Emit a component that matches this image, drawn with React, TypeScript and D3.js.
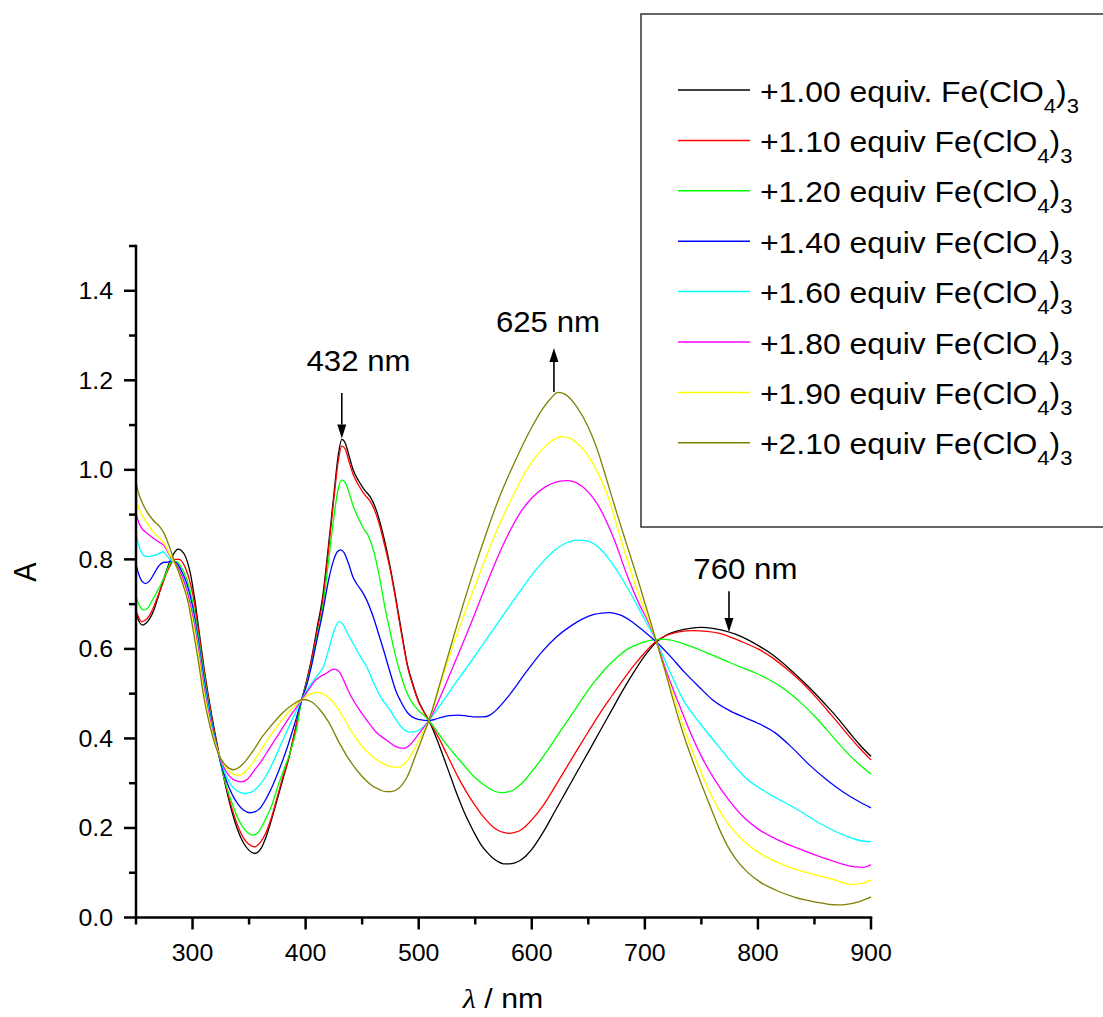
import React from 'react';
import * as d3 from 'd3';

type Pt = [number, number];

// Absorbance spectra, [wavelength nm, A]
const eq100: Pt[] = [[250,0.680],[253,0.660],[256,0.653],[259,0.658],[262,0.667],[266,0.688],[270,0.72],[275,0.76],[280,0.795],[284,0.815],[287,0.823],[290,0.82],[294,0.805],[298,0.77],[302,0.71],[306,0.635],[310,0.56],[315,0.48],[320,0.41],[325,0.345],[330,0.285],[335,0.235],[340,0.195],[345,0.167],[350,0.15],[355,0.143],[360,0.152],[365,0.18],[370,0.22],[375,0.265],[380,0.31],[385,0.355],[390,0.41],[396.5,0.486],[401,0.53],[405,0.575],[410,0.645],[415,0.715],[420,0.825],[425,0.945],[429,1.035],[432,1.068],[435,1.06],[438,1.035],[442,1.0],[447,0.975],[452,0.955],[457,0.94],[461,0.92],[465,0.89],[470,0.84],[475,0.78],[480,0.71],[485,0.635],[490,0.565],[495,0.52],[500,0.483],[505,0.458],[509,0.44],[515,0.405],[520,0.372],[525,0.337],[530,0.302],[535,0.268],[540,0.237],[545,0.21],[550,0.185],[555,0.163],[560,0.147],[565,0.134],[570,0.125],[575,0.12],[580,0.12],[585,0.122],[590,0.128],[595,0.138],[600,0.152],[610,0.19],[620,0.235],[630,0.28],[640,0.325],[651,0.374],[660,0.415],[670,0.46],[680,0.505],[690,0.547],[700,0.585],[710,0.615],[720,0.632],[730,0.641],[740,0.646],[750,0.648],[760,0.646],[770,0.641],[780,0.633],[790,0.622],[800,0.608],[813,0.587],[825,0.562],[840,0.527],[850,0.502],[860,0.475],[870,0.447],[880,0.416],[890,0.386],[900,0.36]];
const eq110: Pt[] = [[250,0.687],[253,0.667],[255,0.661],[258,0.664],[262,0.675],[265,0.69],[268,0.709],[272,0.735],[277,0.769],[281,0.79],[285,0.80],[288,0.80],[292,0.79],[296,0.765],[300,0.725],[305,0.645],[310,0.555],[315,0.475],[320,0.405],[325,0.345],[330,0.29],[335,0.242],[340,0.205],[345,0.178],[350,0.163],[354.5,0.158],[360,0.168],[365,0.19],[370,0.225],[375,0.27],[380,0.315],[385,0.355],[390,0.41],[396.5,0.486],[401,0.528],[405,0.572],[410,0.638],[415,0.705],[420,0.815],[425,0.935],[429,1.022],[432,1.053],[435,1.047],[438,1.022],[442,0.99],[447,0.965],[452,0.945],[457,0.93],[461,0.91],[465,0.88],[470,0.83],[475,0.775],[480,0.705],[485,0.63],[490,0.562],[495,0.517],[500,0.481],[505,0.457],[509,0.44],[515,0.414],[520,0.39],[525,0.364],[530,0.338],[535,0.313],[540,0.29],[545,0.269],[550,0.25],[555,0.232],[560,0.217],[565,0.204],[570,0.195],[575,0.19],[580,0.188],[585,0.19],[590,0.195],[595,0.205],[600,0.218],[610,0.25],[620,0.29],[630,0.332],[640,0.374],[650,0.415],[660,0.455],[670,0.492],[680,0.528],[690,0.562],[700,0.592],[710,0.617],[720,0.631],[730,0.638],[743,0.641],[755,0.639],[765,0.635],[775,0.627],[785,0.617],[800,0.6],[813,0.58],[825,0.556],[840,0.522],[852,0.49],[865,0.452],[880,0.407],[890,0.378],[900,0.352]];
const eq120: Pt[] = [[250,0.718],[253,0.697],[257,0.687],[260,0.69],[264,0.707],[268,0.725],[271,0.739],[275,0.76],[279,0.785],[282,0.796],[286,0.795],[290,0.782],[295,0.755],[300,0.705],[305,0.63],[310,0.545],[315,0.467],[320,0.4],[325,0.342],[330,0.293],[335,0.255],[340,0.222],[345,0.2],[350,0.187],[353,0.184],[358,0.19],[365,0.222],[370,0.25],[375,0.29],[380,0.325],[387,0.374],[392,0.42],[396.5,0.486],[401,0.523],[405,0.562],[410,0.625],[415,0.69],[420,0.79],[425,0.895],[429,0.96],[432,0.977],[435,0.972],[438,0.952],[442,0.92],[447,0.89],[451,0.87],[455,0.855],[460,0.82],[465,0.765],[470,0.695],[475,0.635],[480,0.58],[485,0.535],[490,0.5],[495,0.477],[500,0.462],[505,0.451],[509,0.44],[515,0.42],[520,0.402],[527,0.379],[533,0.361],[540,0.34],[550,0.312],[560,0.292],[567,0.282],[573,0.279],[580,0.281],[585,0.287],[590,0.297],[595,0.31],[600,0.326],[608,0.352],[616,0.381],[625,0.415],[635,0.452],[645,0.49],[655,0.525],[665,0.555],[675,0.58],[685,0.6],[695,0.612],[705,0.619],[714,0.622],[722,0.62],[730,0.615],[740,0.606],[755,0.591],[770,0.575],[785,0.559],[799,0.545],[810,0.531],[820,0.516],[830,0.497],[840,0.475],[850,0.45],[860,0.422],[870,0.393],[880,0.365],[890,0.341],[900,0.32]];
const eq140: Pt[] = [[250,0.79],[252,0.77],[255,0.752],[258.5,0.746],[262,0.752],[266,0.768],[270,0.785],[274,0.793],[278,0.794],[282,0.796],[286,0.792],[290,0.775],[295,0.745],[300,0.695],[305,0.62],[310,0.535],[315,0.462],[320,0.398],[325,0.345],[330,0.305],[335,0.275],[340,0.254],[345,0.24],[351,0.234],[356,0.237],[360,0.245],[365,0.265],[370,0.29],[375,0.32],[383,0.374],[390,0.43],[396.5,0.486],[401,0.52],[405,0.56],[410,0.62],[415,0.68],[420,0.75],[425,0.8],[428,0.817],[431,0.821],[434,0.815],[438,0.79],[442,0.76],[445,0.746],[450,0.728],[454,0.709],[460,0.67],[465,0.63],[469,0.597],[475,0.545],[480,0.505],[483.5,0.486],[490,0.458],[495,0.447],[501,0.442],[509,0.44],[515,0.443],[520,0.447],[527,0.451],[535,0.452],[543,0.45],[550,0.448],[557,0.448],[563,0.452],[570,0.467],[578,0.49],[585,0.513],[592,0.538],[600,0.565],[610,0.596],[622,0.627],[635,0.652],[645,0.667],[655,0.677],[662,0.68],[668,0.681],[675,0.678],[683,0.67],[690,0.658],[700,0.638],[710,0.616],[722,0.585],[735,0.548],[748,0.515],[760,0.486],[775,0.462],[790,0.445],[800,0.434],[815,0.413],[830,0.38],[845,0.342],[861,0.307],[875,0.281],[890,0.258],[900,0.245]];
const eq160: Pt[] = [[250,0.858],[252,0.835],[255,0.815],[259.5,0.806],[264,0.808],[268,0.81],[274,0.817],[278,0.806],[282,0.796],[286,0.787],[290,0.768],[295,0.735],[300,0.683],[305,0.61],[310,0.525],[315,0.455],[320,0.395],[325,0.35],[330,0.315],[335,0.293],[340,0.282],[346,0.277],[352,0.28],[360,0.298],[368,0.33],[376,0.374],[385,0.425],[396.5,0.486],[403,0.515],[410,0.54],[415.7,0.56],[420,0.595],[425,0.64],[429.6,0.661],[433,0.655],[437,0.635],[442,0.612],[448,0.585],[454,0.56],[460,0.525],[467,0.49],[474.7,0.463],[480,0.442],[486,0.422],[492,0.414],[497,0.415],[502.7,0.423],[509,0.44],[520,0.478],[533,0.525],[548,0.578],[565,0.64],[578,0.687],[590,0.73],[600,0.765],[610,0.795],[620,0.82],[630,0.836],[641,0.843],[650,0.84],[660,0.825],[670,0.795],[685,0.735],[700,0.665],[710,0.618],[722,0.55],[734,0.486],[750,0.43],[765,0.383],[790,0.31],[810,0.276],[833,0.244],[855,0.21],[880,0.18],[890,0.172],[900,0.169]];
const eq180: Pt[] = [[250,0.905],[252,0.885],[255,0.87],[259.5,0.859],[264,0.85],[268,0.842],[272,0.836],[275,0.83],[279,0.812],[283,0.796],[287,0.783],[291,0.76],[295,0.73],[300,0.675],[305,0.6],[310,0.515],[315,0.447],[320,0.392],[325,0.352],[330,0.325],[335,0.31],[339,0.305],[343.5,0.303],[349,0.31],[355,0.33],[361,0.35],[367,0.374],[375,0.405],[385,0.445],[396.5,0.486],[403,0.51],[408,0.528],[412.8,0.538],[418,0.545],[422,0.552],[426,0.555],[430,0.548],[434,0.528],[439,0.5],[446,0.47],[454,0.441],[462,0.415],[471.7,0.396],[479,0.383],[486.5,0.378],[492,0.385],[500,0.41],[509,0.44],[520,0.498],[530,0.558],[540,0.618],[548,0.668],[560,0.745],[570,0.806],[578,0.85],[590,0.905],[600,0.937],[612,0.962],[622,0.973],[632,0.976],[645,0.962],[660,0.915],[672,0.85],[685,0.76],[695,0.7],[703,0.66],[710,0.618],[719,0.55],[728.7,0.486],[740,0.415],[750,0.36],[762,0.307],[775,0.26],[787,0.225],[800,0.198],[818,0.173],[840,0.15],[864,0.128],[886,0.113],[893,0.112],[900,0.118]];
const eq190: Pt[] = [[250,0.94],[252,0.918],[255,0.9],[259.5,0.882],[265,0.862],[271,0.847],[275,0.835],[279,0.815],[283,0.796],[287,0.777],[291,0.752],[295,0.72],[300,0.665],[305,0.59],[310,0.505],[315,0.44],[320,0.39],[325,0.355],[330,0.333],[335,0.322],[339.6,0.318],[345,0.322],[350,0.335],[355,0.352],[360,0.372],[370,0.41],[380,0.445],[390,0.472],[396.5,0.486],[403,0.498],[409.8,0.503],[415,0.5],[421,0.49],[427.5,0.471],[435,0.44],[442,0.41],[450,0.382],[460,0.358],[470,0.342],[477,0.336],[482,0.336],[488,0.345],[495,0.37],[502,0.405],[509,0.44],[520,0.528],[530,0.605],[540,0.675],[550,0.742],[560,0.808],[570,0.87],[580,0.925],[590,0.975],[600,1.017],[610,1.048],[618,1.065],[627,1.074],[640,1.06],[655,1.01],[666,0.95],[680,0.835],[690,0.755],[700,0.685],[710,0.618],[718,0.55],[726.6,0.486],[735,0.42],[744,0.36],[752.6,0.307],[763,0.252],[775,0.205],[787,0.172],[800,0.146],[815,0.126],[833,0.108],[850,0.096],[865,0.086],[883,0.074],[892,0.076],[900,0.084]];
const eq210: Pt[] = [[250,0.973],[252,0.95],[255,0.93],[260,0.905],[265,0.888],[271,0.873],[275,0.857],[280,0.825],[284,0.796],[288,0.77],[292,0.74],[296,0.705],[300,0.65],[305,0.575],[310,0.492],[315,0.432],[320,0.385],[325,0.355],[330,0.338],[336,0.33],[341,0.335],[347,0.35],[354,0.374],[362,0.405],[370,0.43],[380,0.458],[390,0.478],[398,0.487],[405,0.482],[413,0.463],[420,0.438],[430,0.389],[440,0.347],[450,0.315],[458,0.296],[465,0.286],[471,0.281],[476,0.281],[482,0.288],[490,0.315],[497,0.36],[503,0.4],[509,0.44],[520,0.533],[530,0.62],[540,0.705],[550,0.785],[560,0.86],[570,0.93],[580,0.99],[590,1.045],[600,1.095],[610,1.138],[617,1.16],[623,1.173],[630,1.168],[640,1.14],[650,1.095],[658,1.045],[666,0.98],[675,0.905],[685,0.825],[695,0.745],[703,0.678],[710,0.618],[718,0.55],[725,0.486],[734,0.41],[742,0.352],[750,0.298],[758,0.247],[765,0.203],[772,0.165],[780,0.132],[790,0.103],[802,0.079],[815,0.062],[833,0.045],[850,0.035],[870,0.028],[880,0.03],[889,0.035],[900,0.046]];

const seriesData: Pt[][] = [eq100, eq110, eq120, eq140, eq160, eq180, eq190, eq210];
const seriesLabels = [
  '+1.00 equiv. Fe(ClO',
  '+1.10 equiv Fe(ClO',
  '+1.20 equiv Fe(ClO',
  '+1.40 equiv Fe(ClO',
  '+1.60 equiv Fe(ClO',
  '+1.80 equiv Fe(ClO',
  '+1.90 equiv Fe(ClO',
  '+2.10 equiv Fe(ClO',
];
const seriesColors = ['#000000', '#ff0000', '#00ff00', '#0000ff', '#00ffff', '#ff00ff', '#ffff00', '#808000'];

const xMajorTicks = [300, 400, 500, 600, 700, 800, 900];
const xMinorTicks = [250, 350, 450, 550, 650, 750, 850];
const yMajorTicks = [0, 0.2, 0.4, 0.6, 0.8, 1.0, 1.2, 1.4];
const yMinorTicks = [0.1, 0.3, 0.5, 0.7, 0.9, 1.1, 1.3, 1.5];

// peak annotations: label, arrow wavelength, arrow tail A, arrow tip A, label wavelength, label A
const annLabels = ['432 nm', '625 nm', '760 nm'];
const annArrowX = [432, 619.6, 774.4];
const annArrowFrom = [1.1716, 1.174, 0.729];
const annArrowTo = [1.07, 1.272, 0.638];
const annTextX = [446.8, 614.3, 788.9];
const annTextY = [1.221, 1.308, 0.756];

const FONT = '"Liberation Sans", Arial, Helvetica, sans-serif';

export default function App() {
  const W = 1103, H = 1017;
  const x = d3.scaleLinear().domain([250, 900]).range([136, 871]);
  const y = d3.scaleLinear().domain([0, 1.5]).range([917.5, 246]);
  const line = d3.line<Pt>().x(d => x(d[0])).y(d => y(d[1])).curve(d3.curveMonotoneX);

  const majorLen = 12, minorLen = 7;
  const axisW = 2.5;

  const legendRow0 = 90, legendStep = 50.4;

  return (
    <svg width={W} height={H} viewBox={`0 0 ${W} ${H}`}
      style={{ position: 'absolute', left: 0, top: 0, background: '#fff' }}
      fontFamily={FONT}>
      <rect x={0} y={0} width={W} height={H} fill="#fff" />

      {/* series */}
      <g fill="none" strokeWidth={1.3} strokeLinejoin="round">
        {seriesData.map((s, i) => (
          <path key={i} d={line(s) || ''} stroke={seriesColors[i]} />
        ))}
      </g>

      {/* axes */}
      <g stroke="#000" strokeWidth={axisW}>
        <line x1={x(250)} x2={x(900)} y1={y(0)} y2={y(0)} strokeLinecap="square" />
        <line x1={x(250)} x2={x(250)} y1={y(0)} y2={y(1.5)} strokeLinecap="square" />
        {xMajorTicks.map(t => (
          <line key={'xM' + t} x1={x(t)} x2={x(t)} y1={y(0)} y2={y(0) + majorLen} />
        ))}
        {xMinorTicks.map(t => (
          <line key={'xm' + t} x1={x(t)} x2={x(t)} y1={y(0)} y2={y(0) + minorLen} />
        ))}
        {yMajorTicks.map(t => (
          <line key={'yM' + t} x1={x(250) - majorLen} x2={x(250)} y1={y(t)} y2={y(t)} />
        ))}
        {yMinorTicks.map(t => (
          <line key={'ym' + t} x1={x(250) - minorLen} x2={x(250)} y1={y(t)} y2={y(t)} />
        ))}
      </g>

      {/* tick labels */}
      <g fontSize={23.5} fill="#000">
        {xMajorTicks.map(t => (
          <text key={'xl' + t} transform={`translate(${x(t)},${y(0) + 43}) scale(1.06,1)`} textAnchor="middle">{t}</text>
        ))}
        {yMajorTicks.map(t => (
          <text key={'yl' + t} transform={`translate(${x(250) - 23},${y(t) + 8.3}) scale(1.06,1)`} textAnchor="end">{d3.format('.1f')(t)}</text>
        ))}
      </g>

      {/* axis titles */}
      <text transform={`translate(36,572) scale(1.1,1) rotate(-90)`} textAnchor="middle" fontSize={29} fill="#000">A</text>
      <text transform={`translate(503,1008) scale(1.08,1)`} textAnchor="middle" fontSize={28} fill="#000">
        <tspan fontFamily='"Liberation Serif", "Times New Roman", serif' fontStyle="italic">λ</tspan>
        <tspan> / nm</tspan>
      </text>

      {/* annotations */}
      {annLabels.map((lab, i) => {
        const ax = x(annArrowX[i]);
        const y1 = y(annArrowFrom[i]);
        const y2 = y(annArrowTo[i]);
        const dir = y2 > y1 ? 1 : -1;
        const headLen = 14, headW = 4.5;
        const base = y2 - dir * headLen;
        return (
          <g key={'ann' + i}>
            <line x1={ax} x2={ax} y1={y1} y2={base} stroke="#000" strokeWidth={1.6} />
            <polygon points={`${ax - headW},${base} ${ax + headW},${base} ${ax},${y2}`} fill="#000" />
            <text transform={`translate(${x(annTextX[i])},${y(annTextY[i])}) scale(1.04,1)`} textAnchor="middle" fontSize={30} fill="#000">{lab}</text>
          </g>
        );
      })}

      {/* legend */}
      <rect x={641} y={14} width={470} height={513} fill="none" stroke="#333" strokeWidth={1.5} />
      {seriesLabels.map((lab, i) => {
        const ry = legendRow0 + i * legendStep;
        return (
          <g key={'lg' + i}>
            <line x1={678} x2={750} y1={ry} y2={ry} stroke={seriesColors[i]} strokeWidth={1.5} />
            <text transform={`translate(760,${ry + 11.5}) scale(1.1,1)`} fontSize={29} fill="#000">
              <tspan>{lab}</tspan>
              <tspan fontSize={20} dy={11}>4</tspan>
              <tspan fontSize={29} dy={-11}>)</tspan>
              <tspan fontSize={20} dy={11}>3</tspan>
            </text>
          </g>
        );
      })}
    </svg>
  );
}
